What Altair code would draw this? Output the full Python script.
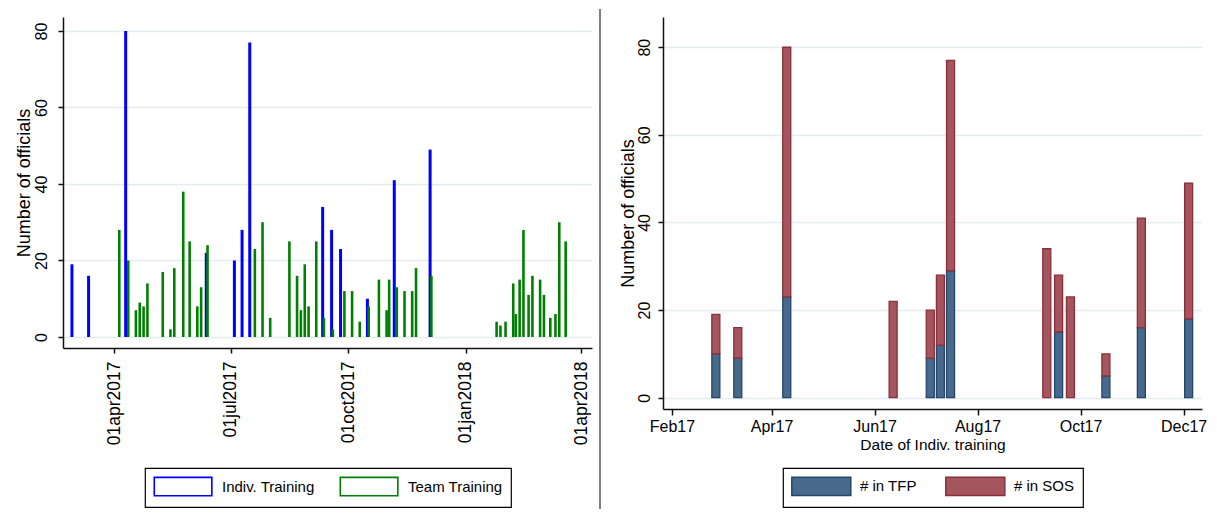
import altair as alt
import pandas as pd

# ---------------- data ----------------
indiv_dates = ["2017-02-27", "2017-03-12", "2017-04-10", "2017-06-12", "2017-07-04",
               "2017-07-10", "2017-07-16", "2017-09-11", "2017-09-18", "2017-09-25",
               "2017-10-16", "2017-11-06", "2017-12-04"]
indiv_total = [19, 16, 80, 22, 20, 28, 77, 34, 28, 23, 10, 41, 49]
tfp_counts = [10, 9, 23, 0, 9, 12, 29, 0, 15, 0, 5, 16, 18]
sos_counts = [9, 7, 57, 22, 11, 16, 48, 34, 13, 23, 5, 25, 31]

team_dates = ["2017-04-05", "2017-04-12", "2017-04-18", "2017-04-21", "2017-04-24",
              "2017-04-27", "2017-05-09", "2017-05-15", "2017-05-18", "2017-05-25",
              "2017-05-30", "2017-06-05", "2017-06-08", "2017-06-13", "2017-07-20",
              "2017-07-26", "2017-08-01", "2017-08-16", "2017-08-22", "2017-08-25",
              "2017-08-28", "2017-08-31", "2017-09-06", "2017-09-12", "2017-09-19",
              "2017-09-28", "2017-10-04", "2017-10-10", "2017-10-17", "2017-10-25",
              "2017-10-31", "2017-11-02", "2017-11-08", "2017-11-14", "2017-11-20",
              "2017-11-23", "2017-12-05", "2018-01-25", "2018-01-28", "2018-02-01",
              "2018-02-07", "2018-02-09", "2018-02-12", "2018-02-15", "2018-02-19",
              "2018-02-22", "2018-02-28", "2018-03-03", "2018-03-08", "2018-03-12",
              "2018-03-15", "2018-03-20"]
team_counts = [28, 20, 7, 9, 8, 14, 17, 2, 18, 38,
               25, 8, 13, 24, 23, 30, 5, 25, 16, 7,
               19, 8, 25, 5, 2, 12, 12, 4, 8, 15,
               7, 15, 13, 12, 12, 18, 16, 4, 3, 4,
               14, 6, 15, 28, 11, 16, 15, 11, 5, 6,
               30, 25]

left_series = ["Indiv. Training", "Team Training"]
left_colors = ["#0000ff", "#008000"]
right_series = ["# in TFP", "# in SOS"]
right_fill = ["#46698c", "#a5555d"]
right_stroke = ["#24466a", "#8a2f3a"]

left_ticks = ["2017-04-01", "2017-07-01", "2017-10-01", "2018-01-01", "2018-04-01"]
right_ticks = ["2017-02-01", "2017-04-01", "2017-06-01", "2017-08-01", "2017-10-01", "2017-12-01"]
y_ticks = [0, 20, 40, 60, 80]

FONT = "Liberation Sans"
GRID = "#e3ecef"


def dt(s, hours=0):
    y, m, d = map(int, s.split("-"))
    return alt.DateTime(year=y, month=m, date=d, hours=hours, utc=True)


# wide legend swatch: path box is wider than the nominal symbol size
LEFT_SWATCH = "M-1,-1L5.25,-1L5.25,1L-1,1Z"
RIGHT_SWATCH = "M-1,-1L5.41,-1L5.41,1L-1,1Z"

# ---------------- tables ----------------
left_df = pd.DataFrame({
    "date": indiv_dates + team_dates,
    "count": indiv_total + team_counts,
    "series": [left_series[0]] * len(indiv_dates) + [left_series[1]] * len(team_dates),
})
# key rows for the hollow legend (placed outside the x domain, clipped away)
legend_df = pd.DataFrame({"date": ["2016-01-01"] * 2, "count": [0, 0], "series": left_series})

right_rows = []
for d, t, s in zip(indiv_dates, tfp_counts, sos_counts):
    right_rows.append({"date": d, "series": right_series[0], "start": 0, "end": t})
    right_rows.append({"date": d, "series": right_series[1], "start": t, "end": t + s})
right_df = pd.DataFrame(right_rows)

# ---------------- left panel ----------------
lx = alt.X("date:T",
           scale=alt.Scale(type="utc", nice=False, padding=0,
                           domain=[dt("2017-02-20"), dt("2018-04-09", 14)]),
           axis=alt.Axis(values=[dt(s) for s in left_ticks],
                         labelExpr="lower(utcFormat(datum.value, '%d%b%Y'))",
                         labelAngle=-90, labelFontSize=17.5, tickSize=5, labelPadding=8,
                         title=None, grid=False))
ly = alt.Y("count:Q",
           scale=alt.Scale(domain=[-2.88, 83.66], nice=False, zero=False),
           axis=alt.Axis(values=y_ticks, labelAngle=-90, labelFontSize=16,
                         labelPadding=9, tickSize=5, title="Number of officials",
                         titleFontSize=18, titlePadding=0, grid=True))

blue = alt.Chart(left_df).transform_filter(
    alt.datum.series == left_series[0]
).mark_bar(size=3, color=left_colors[0]).encode(x=lx, y=ly, y2=alt.datum(0))
green = alt.Chart(left_df).transform_filter(
    alt.datum.series == left_series[1]
).mark_bar(size=2.6, color=left_colors[1]).encode(x=lx, y=ly, y2=alt.datum(0))
left_key = alt.Chart(legend_df).mark_bar(filled=False, strokeWidth=1.6, clip=True).encode(
    x=lx, y=ly, y2=alt.datum(0),
    stroke=alt.Stroke("series:N",
                      scale=alt.Scale(domain=left_series, range=left_colors),
                      legend=alt.Legend(title=None, orient="none", legendX=82, legendY=451,
                                        direction="horizontal", columns=2,
                                        symbolType=LEFT_SWATCH, symbolSize=339,
                                        symbolStrokeWidth=1.6, symbolFillColor="white",
                                        labelFontSize=15, labelOffset=48, columnPadding=22,
                                        padding=8, strokeColor="black", fillColor="white")))
divider = alt.Chart(pd.DataFrame({"k": [0]})).mark_rule(color="#555555", strokeWidth=1.5).encode(
    x=alt.value(537), y=alt.value(-8), y2=alt.value(492))

left = alt.layer(blue, green, left_key, divider).properties(width=529, height=331)

# ---------------- right panel ----------------
rx = alt.X("date:T",
           scale=alt.Scale(type="utc", nice=False, padding=0,
                           domain=[dt("2017-01-26", 17), dt("2017-12-11", 22)]),
           axis=alt.Axis(values=[dt(s) for s in right_ticks],
                         labelExpr="utcFormat(datum.value, '%b%y')",
                         labelAngle=0, labelFontSize=16, tickSize=6, labelPadding=3,
                         title="Date of Indiv. training", titleFontSize=15.5,
                         titlePadding=3, grid=False))
ry = alt.Y("start:Q",
           scale=alt.Scale(domain=[-2.58, 86.9], nice=False, zero=False),
           axis=alt.Axis(values=y_ticks, labelAngle=-90, labelFontSize=16,
                         labelPadding=6, tickSize=5, title="Number of officials",
                         titleFontSize=18, titlePadding=-1, grid=True))
right_legend = alt.Legend(title=None, orient="none", legendX=120, legendY=451,
                          direction="horizontal", columns=2,
                          symbolType=RIGHT_SWATCH, symbolSize=339,
                          labelFontSize=15, labelOffset=49, columnPadding=25,
                          padding=8, strokeColor="black", fillColor="white")

right = alt.Chart(right_df).transform_filter(
    "datum.end > datum.start"
).mark_bar(size=8, strokeWidth=1.3).encode(
    x=rx, y=ry, y2="end:Q",
    fill=alt.Fill("series:N", scale=alt.Scale(domain=right_series, range=right_fill),
                  legend=right_legend),
    stroke=alt.Stroke("series:N", scale=alt.Scale(domain=right_series, range=right_stroke),
                      legend=right_legend),
).properties(width=539, height=392)

chart = alt.hconcat(left, right, spacing=18).resolve_scale(
    x="independent", y="independent", fill="independent", stroke="independent"
).properties(
    padding={"left": 7, "top": 0, "right": 2, "bottom": 0},
    background="white",
).configure_view(stroke=None).configure_axis(
    labelFont=FONT, titleFont=FONT, labelColor="black", titleColor="black",
    titleFontWeight="normal", domainColor="#111111", tickColor="#111111",
    domainWidth=1.5, tickWidth=1.5, gridColor=GRID, gridWidth=1.6
).configure_legend(labelFont=FONT, labelColor="black", strokeWidth=1.2)

chart.save("out.html", embed_options={"renderer": "svg", "actions": False})
